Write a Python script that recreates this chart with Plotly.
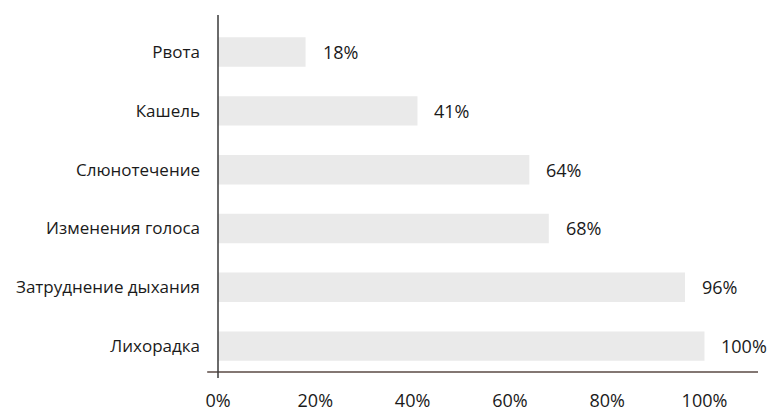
import plotly.graph_objects as go

categories = ["Лихорадка", "Затруднение дыхания", "Изменения голоса", "Слюнотечение", "Кашель", "Рвота"]
values = [100, 96, 68, 64, 41, 18]
value_labels = ["100%", "96%", "68%", "64%", "41%", "18%"]
x_ticks = [0, 20, 40, 60, 80, 100]
x_ticktext = ["0%", "20%", "40%", "60%", "80%", "100%"]

font_family = "Open Sans, Noto Sans, sans-serif"

fig = go.Figure()
fig.add_trace(go.Bar(
    x=values, y=categories, orientation="h",
    marker=dict(color="#eaeaea", line=dict(width=0)),
    hoverinfo="skip",
))

for v, c, t in zip(values, categories, value_labels):
    fig.add_annotation(x=v, y=c, text=t, showarrow=False, xanchor="left",
                       xshift=15, font=dict(size=18, color="#1a1a1a", family=font_family))

# axis lines
fig.add_shape(type="line", xref="paper", yref="paper", x0=-0.02, x1=1, y0=0, y1=0,
              line=dict(color="#5a4a44", width=1.5))
fig.add_shape(type="line", xref="paper", yref="paper", x0=0, x1=0, y0=-0.017, y1=1,
              line=dict(color="#3a3a3a", width=1.5))

fig.update_layout(
    width=770, height=412,
    margin=dict(l=218, r=12, t=15, b=40),
    paper_bgcolor="white", plot_bgcolor="white",
    bargap=0.5, showlegend=False,
    font=dict(family=font_family, size=17, color="#1a1a1a"),
    xaxis=dict(range=[0, 111], tickvals=x_ticks, ticktext=x_ticktext,
               showgrid=False, zeroline=False, showline=False, ticks="",
               ticklabelstandoff=16, tickfont=dict(size=18), automargin=False),
    yaxis=dict(categoryorder="array", categoryarray=categories,
               range=[-0.44, 5.63], showgrid=False, zeroline=False, showline=False,
               ticks="", ticklabelstandoff=17, tickfont=dict(size=17), automargin=False),
)

fig.write_html("out.html")
